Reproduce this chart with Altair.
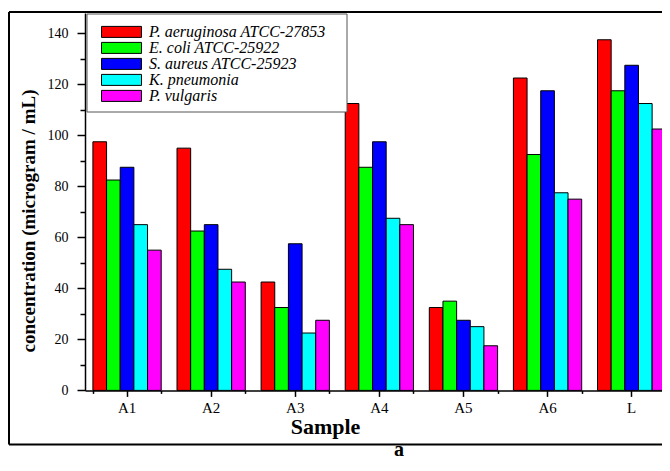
import altair as alt
import pandas as pd

samples = ["A1", "A2", "A3", "A4", "A5", "A6", "L"]
series = ["P. aeruginosa ATCC-27853", "E. coli ATCC-25922", "S. aureus ATCC-25923",
          "K. pneumonia", "P. vulgaris"]
colors = ["#ff0000", "#00ff00", "#0000ff", "#00ffff", "#ff00ff"]

p_aeruginosa = [97.5, 95, 42.5, 112.5, 32.5, 122.5, 137.5]
e_coli = [82.5, 62.5, 32.5, 87.5, 35, 92.5, 117.5]
s_aureus = [87.5, 65, 57.5, 97.5, 27.5, 117.5, 127.5]
k_pneumonia = [65, 47.5, 22.5, 67.5, 25, 77.5, 112.5]
p_vulgaris = [55, 42.5, 27.5, 65, 17.5, 75, 102.5]

y_major = [0, 20, 40, 60, 80, 100, 120, 140]
y_minor = [10, 30, 50, 70, 90, 110, 130]

values = [p_aeruginosa, e_coli, s_aureus, k_pneumonia, p_vulgaris]
rows = []
for s, vals in zip(series, values):
    for smp, v in zip(samples, vals):
        rows.append({"Sample": smp, "Series": s, "Value": v})
df = pd.DataFrame(rows)
one = pd.DataFrame({"k": [0]})

SERIF = "Liberation Serif"

xscale = alt.Scale(range=[0, 588.7], paddingInner=0.188, paddingOuter=0.094)
yscale = alt.Scale(domain=[0, 148], nice=False, zero=True)

major_x = alt.Axis(orient="bottom", title="Sample", titleFont=SERIF, titleFontWeight="bold",
                   titleFontSize=22, titleX=240, titleY=43, titleAlign="center",
                   titleBaseline="alphabetic", titleColor="black",
                   labelFont=SERIF, labelFontSize=15, labelAngle=0, labelPadding=4,
                   labelColor="black", tickSize=6, tickWidth=1.5, tickColor="black",
                   domainColor="black", domainWidth=1.5, grid=False)
minor_x = alt.Axis(orient="bottom", title=None, labels=False, domain=False, tickBand="extent",
                   tickSize=3, tickWidth=1.5, tickColor="black", grid=False)
major_y = alt.Axis(orient="left", values=y_major, title="concentration (microgram / mL)",
                   titleFont=SERIF, titleFontWeight="bold", titleFontSize=19,
                   titleX=-51, titleY=207.5, titleAngle=270, titleAlign="center",
                   titleBaseline="alphabetic", titleColor="black",
                   labelFont=SERIF, labelFontSize=14, labelPadding=9, labelColor="black",
                   tickSize=8, tickWidth=1.5, tickColor="black",
                   domainColor="black", domainWidth=1.5, grid=False)
minor_y = alt.Axis(orient="left", values=y_minor, title=None, labels=False, domain=False,
                   tickSize=5, tickWidth=1.5, tickColor="black", grid=False)

legend = alt.Legend(orient="none", legendX=14, legendY=10.9, title=None, padding=0,
                    symbolType="M-1,-1L6.27,-1L6.27,1L-1,1Z", symbolSize=121,
                    symbolStrokeColor="black", symbolStrokeWidth=1, symbolOpacity=1,
                    labelFont=SERIF, labelFontStyle="italic", labelFontSize=16,
                    labelColor="black", labelOffset=34, rowPadding=0, labelLimit=400)

frame_top = alt.Chart(one).mark_rule(stroke="black", strokeWidth=2).encode(
    x=alt.value(-76), x2=alt.value(620), y=alt.value(-1))
frame_left = alt.Chart(one).mark_rule(stroke="black", strokeWidth=2).encode(
    x=alt.value(-76), y=alt.value(-1), y2=alt.value(431.5))
frame_bottom = alt.Chart(one).mark_rule(stroke="black", strokeWidth=2).encode(
    x=alt.value(-76), x2=alt.value(620), y=alt.value(431.5))

bars = alt.Chart(df).mark_bar(stroke="black", strokeWidth=1, opacity=1).encode(
    x=alt.X("Sample:N", sort=samples, scale=xscale, axis=major_x),
    xOffset=alt.XOffset("Series:N", sort=series),
    y=alt.Y("Value:Q", scale=yscale, axis=major_y),
    color=alt.Color("Series:N", sort=series, scale=alt.Scale(domain=series, range=colors),
                    legend=legend),
)

minor = alt.Chart(df).mark_bar(opacity=0).encode(
    x=alt.X("Sample:N", sort=samples, axis=minor_x),
    y=alt.Y("Value:Q", axis=minor_y),
)

legend_box = alt.Chart(one).mark_rect(fill="white", stroke="#555555", strokeWidth=1).encode(
    x=alt.value(2), x2=alt.value(262), y=alt.value(1), y2=alt.value(99))

label_a = alt.Chart(one).mark_text(font=SERIF, fontWeight="bold", fontSize=20,
                                   color="black", baseline="alphabetic", align="center").encode(
    x=alt.value(314), y=alt.value(442.5), text=alt.value("a"))

chart = alt.layer(frame_top, frame_left, frame_bottom, bars, minor, legend_box, label_a).resolve_axis(
    x="independent", y="independent"
).properties(
    width=577, height=377.4,
    autosize=alt.AutoSizeParams(type="none"),
    padding={"left": 77, "top": 5, "right": 0, "bottom": 67.6},
).configure_view(stroke=None).configure_axis(labelFont=SERIF, titleFont=SERIF
).configure_legend(labelFont=SERIF)

chart.save("out.html", embed_options={"renderer": "svg", "actions": False})
